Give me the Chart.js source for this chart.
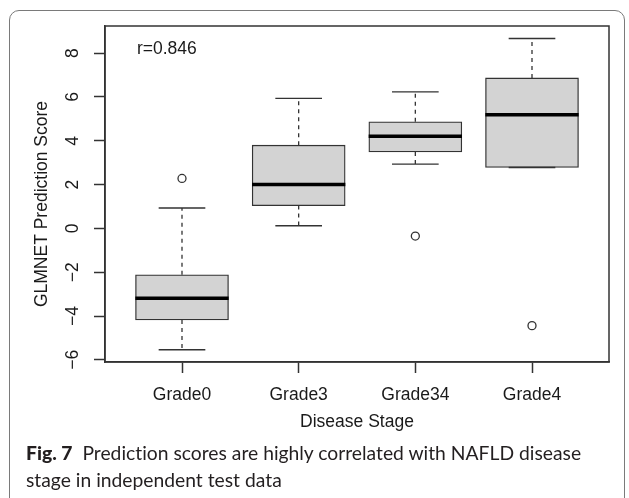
<!DOCTYPE html>
<html>
<head>
<meta charset="utf-8">
<script src="https://cdn.jsdelivr.net/npm/chart.js@4.4.1/dist/chart.umd.min.js"></script>
<style>
  body { margin: 0; background: #fff; }
  #wrap { position: relative; width: 629px; height: 498px; overflow: hidden; }
  #frame { position: absolute; left: 9px; top: 10px; width: 614px; height: 500px;
           border: 1.5px solid #7a7a7a; border-radius: 10px; }
  #chart { position: absolute; left: 0; top: 0; }
  #caption { position: absolute; left: 26px; top: 439px; width: 595px;
             font-family: Lato, "Open Sans", sans-serif; font-size: 19.3px;
             line-height: 27px; color: #231f20; font-variant-ligatures: none; }
  #caption b { font-weight: 900; }
</style>
</head>
<body>
<div id="wrap">
  <div id="frame"></div>
  <canvas id="chart" width="629" height="440"></canvas>
  <div id="caption"><b>Fig. 7</b>&nbsp; Prediction scores are highly correlated with NAFLD disease<br>stage in independent test data</div>
</div>
<script>
// boxplot stats
const categories = ['Grade0', 'Grade3', 'Grade34', 'Grade4'];
const whiskerLow = [-5.54, 0.12, 2.93, 2.78];
const q1 = [-4.18, 1.04, 3.49, 2.78];
const median = [-3.19, 2.0, 4.21, 5.19];
const q3 = [-2.12, 3.80, 4.87, 6.87];
const whiskerHigh = [0.93, 5.94, 6.23, 8.67];
// outliers: group number (1-based) and value
const outlierGroup = [1, 3, 4];
const outlierValue = [2.28, -0.35, -4.44];
const yTicks = [-6, -4, -2, 0, 2, 4, 6, 8];
const yTitle = 'GLMNET Prediction Score';
const rLabel = 'r=0.846';
const rPos = [0.87, 8.2];

const FONT = '"Liberation Sans", Arial, sans-serif';
const FSIZE = 17.5;
const INK = '#1a1a1a';
const LINE = '#333';

// build line segments (null breaks the line)
const whiskerPts = [];
const capPts = [];
const medianPts = [];
categories.forEach((c, i) => {
  const x = i + 1;
  whiskerPts.push({x: x, y: q3[i]}, {x: x, y: whiskerHigh[i]}, {x: x, y: null});
  whiskerPts.push({x: x, y: q1[i]}, {x: x, y: whiskerLow[i]}, {x: x, y: null});
  capPts.push({x: x - 0.2, y: whiskerHigh[i]}, {x: x + 0.2, y: whiskerHigh[i]}, {x: x, y: null});
  capPts.push({x: x - 0.2, y: whiskerLow[i]}, {x: x + 0.2, y: whiskerLow[i]}, {x: x, y: null});
  medianPts.push({x: x - 0.4, y: median[i]}, {x: x + 0.4, y: median[i]}, {x: x, y: null});
});

const frameAndText = {
  id: 'frameAndText',
  afterDatasetsDraw(chart) {
    const {ctx, chartArea: a, scales} = chart;
    ctx.save();
    ctx.strokeStyle = LINE;
    ctx.lineWidth = 1.5;
    ctx.strokeRect(a.left, a.top, a.right - a.left, a.bottom - a.top);
    ctx.font = FSIZE + 'px ' + FONT;
    ctx.fillStyle = INK;
    ctx.textAlign = 'center';
    ctx.textBaseline = 'middle';
    ctx.fillText(rLabel, scales.x.getPixelForValue(rPos[0]), scales.y.getPixelForValue(rPos[1]));
    // y axis title, sits a bit below the plot centre in the original
    ctx.translate(42, (a.top + a.bottom) / 2 + 10);
    ctx.rotate(-Math.PI / 2);
    ctx.fillText(yTitle, 0, 0);
    ctx.restore();
  }
};

const axisGrid = {
  display: true, drawOnChartArea: false, drawTicks: true,
  tickLength: 11, tickColor: LINE, tickWidth: 1.5, offset: false
};

new Chart(document.getElementById('chart'), {
  type: 'bar',
  data: {
    datasets: [
      {
        type: 'scatter',
        data: outlierGroup.map((g, k) => ({x: g, y: outlierValue[k]})),
        pointStyle: 'circle', pointRadius: 4,
        pointBackgroundColor: 'rgba(0,0,0,0)', pointBorderColor: LINE, pointBorderWidth: 1.3,
        order: 0
      },
      {
        type: 'line', data: medianPts, borderColor: '#000', borderWidth: 3.5,
        pointRadius: 0, spanGaps: false, order: 1
      },
      {
        type: 'line', data: capPts, borderColor: LINE, borderWidth: 1.3,
        pointRadius: 0, spanGaps: false, order: 2
      },
      {
        type: 'bar',
        data: categories.map((c, i) => ({x: i + 1, y: [q1[i], q3[i]]})),
        backgroundColor: '#d3d3d3', borderColor: LINE, borderWidth: 1.3,
        borderSkipped: false, barThickness: 93, order: 3
      },
      {
        type: 'line', data: whiskerPts, borderColor: LINE, borderWidth: 1.3,
        borderDash: [4, 4], pointRadius: 0, spanGaps: false, order: 4
      }
    ]
  },
  options: {
    responsive: false,
    animation: false,
    layout: { padding: { top: 26, right: 20, left: 0, bottom: 0 } },
    plugins: { legend: { display: false }, tooltip: { enabled: false } },
    scales: {
      x: {
        type: 'linear', min: 0.34, max: 4.66, offset: false,
        afterBuildTicks: s => { s.ticks = categories.map((c, i) => ({value: i + 1})); },
        afterFit: s => { s.height = 78; },
        ticks: {
          callback: v => categories[v - 1] || '',
          font: { family: FONT, size: FSIZE }, color: INK,
          padding: 12, maxRotation: 0, autoSkip: false
        },
        grid: axisGrid,
        border: { display: true, color: LINE, width: 1.5 },
        title: {
          display: true, text: 'Disease Stage', color: INK,
          font: { family: FONT, size: FSIZE }, padding: { top: 0, bottom: 7 }
        }
      },
      y: {
        type: 'linear', min: -6.1, max: 9.24,
        afterBuildTicks: s => { s.ticks = yTicks.map(v => ({value: v})); },
        afterFit: s => { s.width = 105; },
        ticks: {
          callback: v => (v < 0 ? '\u2212' + (-v) : String(v)),
          minRotation: 90, maxRotation: 90, crossAlign: 'center',
          font: { family: FONT, size: FSIZE }, color: INK, padding: 11
        },
        grid: axisGrid,
        border: { display: true, color: LINE, width: 1.5 }
      }
    }
  },
  plugins: [frameAndText]
});
</script>
</body>
</html>
